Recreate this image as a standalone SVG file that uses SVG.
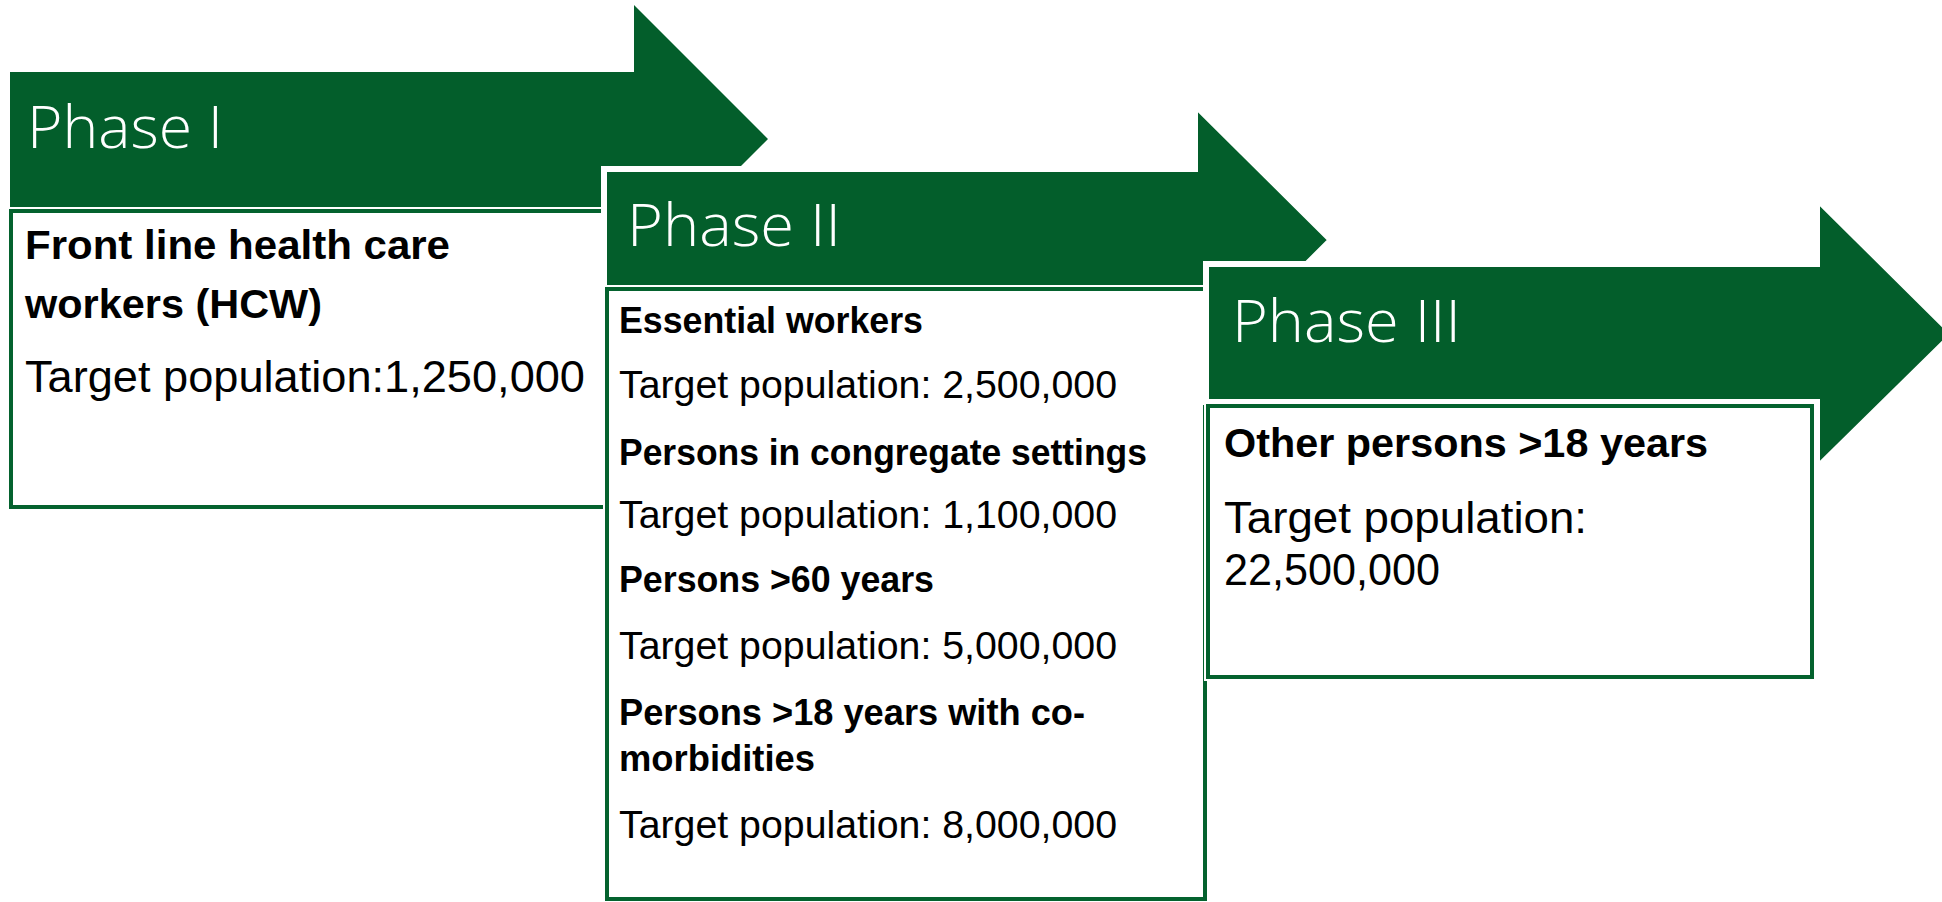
<svg xmlns="http://www.w3.org/2000/svg" width="1942" height="902" viewBox="0 0 1942 902">
<style>
.arrow{fill:#035e2b;stroke:#ffffff;stroke-width:6;stroke-linejoin:miter}
.halo{fill:#ffffff;stroke:#ffffff;stroke-width:8}
.box{fill:#ffffff;stroke:#04622e;stroke-width:4}
.title{font-family:"Open Sans","Liberation Sans",Arial,sans-serif;font-size:58px;font-weight:300;fill:#ffffff}
.b41{font-family:"Liberation Sans",Arial,sans-serif;font-size:41px;font-weight:bold;fill:#000000}
.r44{font-family:"Liberation Sans",Arial,sans-serif;font-size:44px;fill:#000000}
.b36{font-family:"Liberation Sans",Arial,sans-serif;font-size:36px;font-weight:bold;fill:#000000}
.r38{font-family:"Liberation Sans",Arial,sans-serif;font-size:38px;fill:#000000}
</style>
<rect x="0" y="0" width="1942" height="902" fill="#ffffff"/>
<g id="phase1">
  <path class="arrow" style="stroke:none" d="M10,72 H634 V5 L768,139 L634,273 V208 H10 Z"/>
  <text class="title" x="27" y="148" textLength="196" lengthAdjust="spacingAndGlyphs">Phase I</text>
  <rect class="halo" x="11" y="211" width="600" height="296"/>
  <rect class="box" x="11" y="211" width="600" height="296"/>
  <text class="b41" x="25" y="259" textLength="425" lengthAdjust="spacingAndGlyphs">Front line health care</text>
  <text class="b41" x="25" y="318" textLength="297" lengthAdjust="spacingAndGlyphs">workers (HCW)</text>
  <text class="r44" x="25" y="392" textLength="560" lengthAdjust="spacingAndGlyphs">Target population:1,250,000</text>
</g>
<g id="phase2">
  <path class="arrow" d="M604,169 H1195 V105 L1331,240 L1195,375 V310 H604 Z"/>
  <text class="title" x="627" y="246" textLength="214" lengthAdjust="spacingAndGlyphs">Phase II</text>
  <rect class="halo" x="607" y="289" width="598" height="610"/>
  <rect class="box" x="607" y="289" width="598" height="610"/>
  <text class="b36" x="619" y="333" textLength="304" lengthAdjust="spacingAndGlyphs">Essential workers</text>
  <text class="r38" x="619" y="398" textLength="498" lengthAdjust="spacingAndGlyphs">Target population: 2,500,000</text>
  <text class="b36" x="619" y="465" textLength="528" lengthAdjust="spacingAndGlyphs">Persons in congregate settings</text>
  <text class="r38" x="619" y="528" textLength="498" lengthAdjust="spacingAndGlyphs">Target population: 1,100,000</text>
  <text class="b36" x="619" y="592" textLength="315" lengthAdjust="spacingAndGlyphs">Persons &gt;60 years</text>
  <text class="r38" x="619" y="659" textLength="498" lengthAdjust="spacingAndGlyphs">Target population: 5,000,000</text>
  <text class="b36" x="619" y="725" textLength="466" lengthAdjust="spacingAndGlyphs">Persons &gt;18 years with co-</text>
  <text class="b36" x="619" y="771" textLength="196" lengthAdjust="spacingAndGlyphs">morbidities</text>
  <text class="r38" x="619" y="838" textLength="498" lengthAdjust="spacingAndGlyphs">Target population: 8,000,000</text>
</g>
<g id="phase3">
  <path class="arrow" d="M1206,264 H1817 V199 L1953,334 L1817,468 V402 H1206 Z"/>
  <text class="title" x="1232" y="342" textLength="229" lengthAdjust="spacingAndGlyphs">Phase III</text>
  <rect class="halo" x="1208" y="406" width="604" height="271"/>
  <rect class="box" x="1208" y="406" width="604" height="271"/>
  <text class="b41" x="1224" y="457" textLength="484" lengthAdjust="spacingAndGlyphs">Other persons &gt;18 years</text>
  <text class="r44" x="1224" y="533" textLength="363" lengthAdjust="spacingAndGlyphs">Target population:</text>
  <text class="r44" x="1224" y="585" textLength="216" lengthAdjust="spacingAndGlyphs">22,500,000</text>
</g>
</svg>
